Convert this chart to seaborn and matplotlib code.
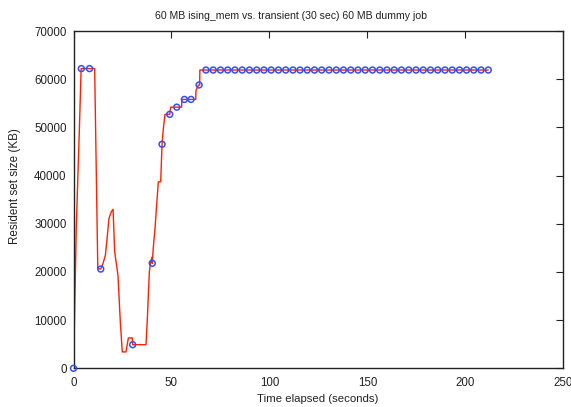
import matplotlib
matplotlib.use("Agg")
import matplotlib.pyplot as plt
from matplotlib import font_manager as fm
import seaborn as sns
import pandas as pd
import os

# red line samples (time s, RSS KB)
line_t = [0, 0.5, 1.4, 3.1, 3.9, 10.8, 12.4, 13.9, 15.1, 16.3, 17.3, 18.1, 19.3, 20.2,
          21.0, 22.7, 23.9, 24.9, 26.8, 28.0, 30.0, 30.2, 37.0, 37.7, 38.7, 39.4, 40.1,
          40.2, 40.7, 41.6, 42.5, 43.3, 44.5, 45.2, 45.8, 46.7, 49.1, 49.6, 55.2, 55.3,
          62.4, 62.5, 63.8, 64.4, 64.5, 211.7]
line_rss = [0, 10000, 29000, 51000, 62200, 62200, 20700, 20600, 21800, 23500, 27600,
            31100, 32500, 33000, 24200, 19300, 9600, 3400, 3400, 6300, 6300, 4900, 4900,
            10300, 20000, 22100, 23100, 21800, 24900, 29000, 34200, 38700, 38700, 46500,
            49500, 52700, 52700, 54200, 54200, 55800, 55800, 57600, 58800, 58800, 61900,
            61900]

# blue circle samples
mark_t_early = [0, 4.0, 8.2, 13.9, 30.2, 40.2, 45.2, 49.1, 52.7, 56.6, 60.0, 64.1]
mark_rss_early = [0, 62200, 62200, 20600, 4900, 21800, 46500, 52700, 54200, 55800,
                  55800, 58800]
plateau_t = [67.6, 71.3, 75.0, 78.7, 82.4, 86.1, 89.8, 93.5, 97.2, 100.9, 104.6, 108.3,
             112.0, 115.6, 119.3, 123.0, 126.7, 130.4, 134.1, 137.8, 141.5, 145.2, 148.9,
             152.6, 156.3, 160.0, 163.7, 167.4, 171.1, 174.8, 178.5, 182.2, 185.9, 189.6,
             193.3, 197.0, 200.6, 204.3, 208.0, 211.7]
plateau_rss = [61900] * len(plateau_t)

title = "60 MB ising_mem vs. transient (30 sec) 60 MB dummy job"
xlabel = "Time elapsed (seconds)"
ylabel = "Resident set size (KB)"
xticks = [0, 50, 100, 150, 200, 250]
yticks = [0, 10000, 20000, 30000, 40000, 50000, 60000, 70000]

sns.set_style("white")

fam = "Liberation Sans"
for f in fm.findSystemFonts():
    if os.path.basename(f) == "LiberationSans-Regular.ttf":
        fm.fontManager.addfont(f)
        fam = fm.FontProperties(fname=f).get_name()
        break
plt.rcParams['font.family'] = [fam, 'DejaVu Sans']

W, H = 571, 407
fig = plt.figure(figsize=(W / 100, H / 100), dpi=100)
ax = fig.add_axes([73.5 / W, 1 - 368.3 / H, (563.3 - 73.5) / W, (368.3 - 31) / H])

df_line = pd.DataFrame({"t": line_t, "rss": line_rss})
df_mark = pd.DataFrame({"t": mark_t_early + plateau_t, "rss": mark_rss_early + plateau_rss})

sns.lineplot(data=df_line, x="t", y="rss", ax=ax, color="#ff2200", linewidth=1.0,
             sort=False, estimator=None, zorder=2)
sns.scatterplot(data=df_mark, x="t", y="rss", ax=ax, marker="o", s=18,
                facecolors="none", edgecolor="#3050ff", linewidth=1.1, zorder=3,
                clip_on=False)

ax.set_xlim(0, 250)
ax.set_ylim(0, 70000)
ax.set_xticks(xticks)
ax.set_yticks(yticks)
ax.set_xticklabels([str(v) for v in xticks])
ax.set_yticklabels([str(v) for v in yticks])
ax.tick_params(direction="in", length=5, width=0.8, top=True, right=True,
               labelsize=8.3, colors="#222222", pad=5)
ax.tick_params(axis="x", pad=6)
for sp in ax.spines.values():
    sp.set_visible(True)
    sp.set_color("#222222")
    sp.set_linewidth(1.0)
ax.set_xlabel("")
ax.set_ylabel("")

fig.text(291 / W, 1 - 16 / H, title, ha="center", va="center", fontsize=7.6, color="#222222")
fig.text(318 / W, 1 - 399 / H, xlabel, ha="center", va="center", fontsize=8.2, color="#222222")
fig.text(15 / W, 1 - 186 / H, ylabel, ha="center", va="center", rotation=90, fontsize=8.4,
         color="#222222")

fig.savefig("out.png", dpi=100, facecolor="white")
